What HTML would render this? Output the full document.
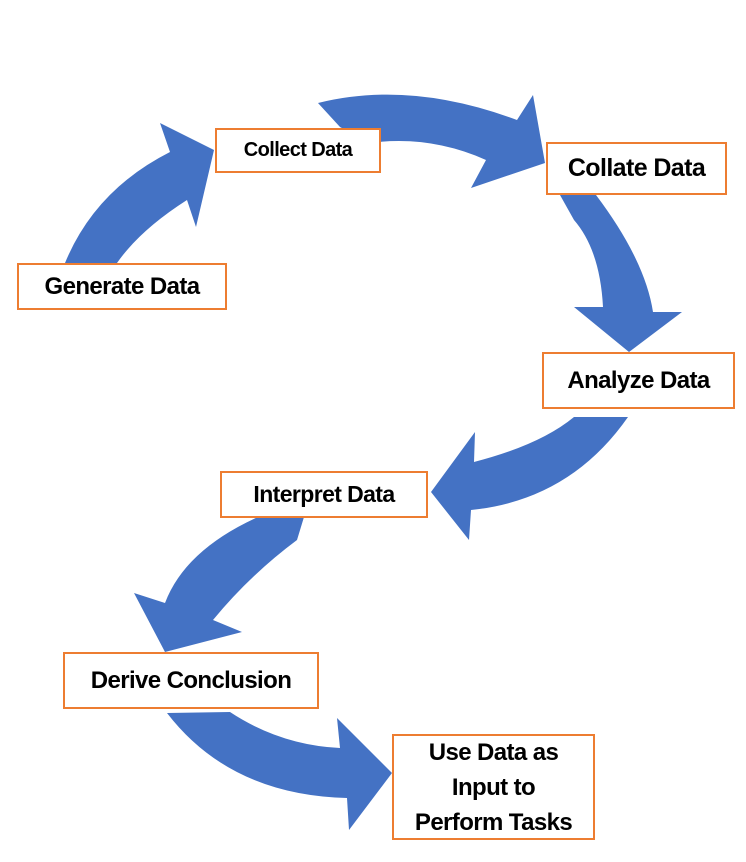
<!DOCTYPE html>
<html><head><style>
body{margin:0;width:746px;height:862px;background:#fff;position:relative;overflow:hidden;font-family:"Liberation Sans",sans-serif;}
.b{position:absolute;box-sizing:border-box;border:2px solid #ED7D31;background:#fff;font-weight:bold;color:#000;display:flex;align-items:center;justify-content:center;text-align:center;white-space:nowrap;letter-spacing:-0.6px;line-height:35px;}
svg{position:absolute;left:0;top:0}
</style></head><body>
<svg width="746" height="862">
<g fill="#4472C4">
<path d="M65,263 Q95,190 170,152 L160,123 L214,150 L196,227 L187,200 Q140,230 117,263 Z"/>
<path d="M318,103 Q410,80 517,120 L533,95 L545,163 L471,188 L486,160 Q430,135 370,143 L340,127 Z"/>
<path d="M560,195 L596,195 Q645,260 653,312 L682,312 L629,352 L574,307 L603,307 Q600,250 574,220 Z"/>
<path d="M574,417 L628,417 Q570,500 471,510 L469,540 L431,492 L475,432 L474,462 Q540,445 574,417 Z"/>
<path d="M258,517 L304,517 L297,540 Q250,575 213,620 L242,632 L165,652 L134,593 L165,603 Q185,550 258,517 Z"/>
<path d="M167,713 L230,712 Q280,745 340,748 L337,718 L392,773 L349,830 L347,798 Q230,795 167,713 Z"/>
</g>
</svg>
<div class="b" style="left:215px;top:128px;width:166px;height:45px;font-size:20px;">Collect Data</div>
<div class="b" style="left:546px;top:142px;width:181px;height:53px;font-size:25px;">Collate Data</div>
<div class="b" style="left:17px;top:263px;width:210px;height:47px;font-size:24px;">Generate Data</div>
<div class="b" style="left:542px;top:352px;width:193px;height:57px;font-size:24px;">Analyze Data</div>
<div class="b" style="left:220px;top:471px;width:208px;height:47px;font-size:23px;">Interpret Data</div>
<div class="b" style="left:63px;top:652px;width:256px;height:57px;font-size:24px;">Derive Conclusion</div>
<div class="b" style="left:392px;top:734px;width:203px;height:106px;font-size:24px;">Use Data as<br>Input to<br>Perform Tasks</div>
</body></html>
